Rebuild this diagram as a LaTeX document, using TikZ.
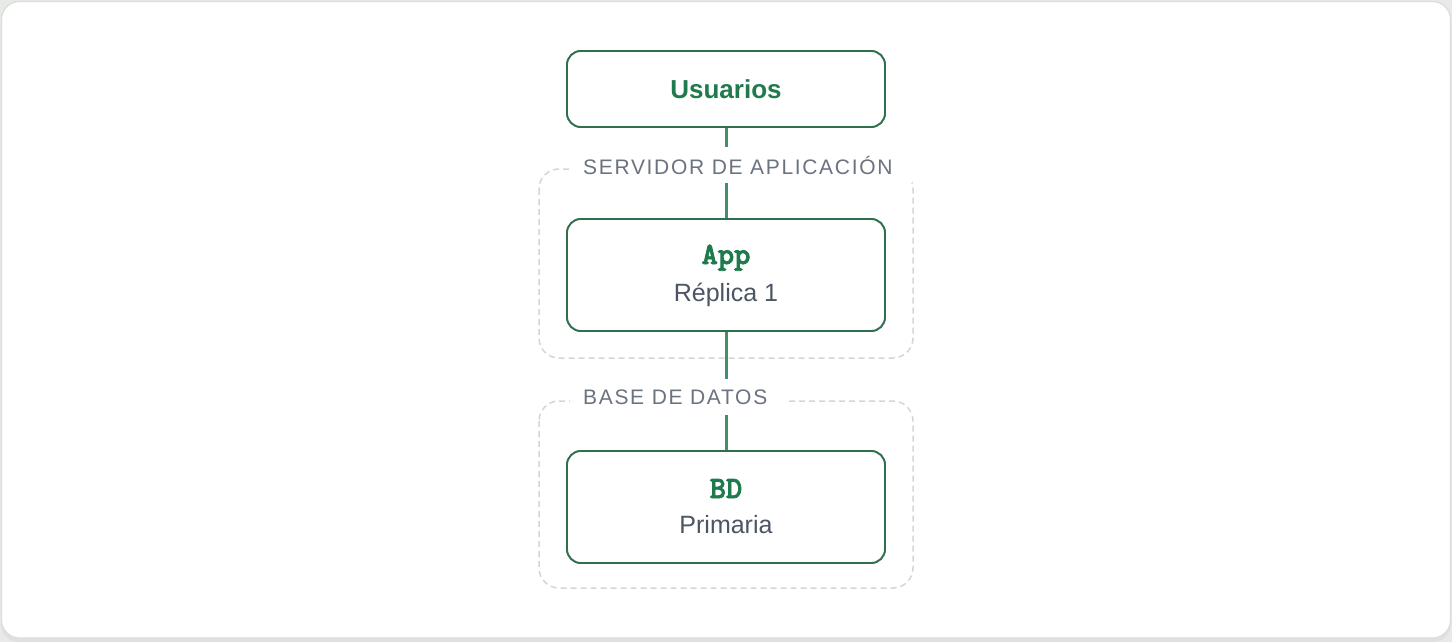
\documentclass[tikz,border=0pt]{standalone}
\usepackage{fontspec}
\setmainfont{Liberation Sans}
\newfontfamily\lblfont{Liberation Sans}[LetterSpace=8]
\newfontfamily\monob{lmmonolt10-bold.otf}[FakeBold=2.5]
\usetikzlibrary{calc}
\definecolor{pagebg}{HTML}{E7EAE7}
\definecolor{cardline}{HTML}{DADDDA}
\definecolor{boxline}{HTML}{2F6F4F}
\definecolor{linkline}{HTML}{428F6B}
\definecolor{titlegreen}{HTML}{1F7A4D}
\definecolor{subgrey}{HTML}{4B5563}
\definecolor{lblgrey}{HTML}{6B7280}
\definecolor{dashgrey}{HTML}{D4D6D4}
\tikzset{
  svcbox/.style={draw=boxline, line width=1.8pt, rounded corners=14pt, fill=white,
    minimum width=318pt, inner sep=0pt},
  groupbox/.style={draw=dashgrey, line width=1.5pt, dash pattern=on 6pt off 4pt, rounded corners=20pt},
  grouplabel/.style={fill=white, inner xsep=13pt, inner ysep=0pt, minimum height=36pt,
    text=lblgrey, font=\lblfont\fontsize{21}{24}\selectfont, anchor=west},
  connline/.style={draw=linkline, line width=3pt},
  titletxt/.style={text=titlegreen, font=\bfseries\fontsize{26}{30}\selectfont, anchor=base, inner sep=0pt},
  codetxt/.style={text=titlegreen, font=\monob\fontsize{31}{34}\selectfont, anchor=base, inner sep=0pt},
  subtxt/.style={text=subgrey, font=\fontsize{25}{30}\selectfont, anchor=base, inner sep=0pt},
}
\begin{document}
\begin{tikzpicture}[x=1pt,y=-1pt]
\useasboundingbox (0,0) rectangle (1452,642);
\fill[pagebg] (0,0) rectangle (1452,642);
% card shadow and card
\fill[cardline!70!pagebg, rounded corners=18pt] (1,3) rectangle (1451,642);
\draw[cardline, fill=white, line width=1.2pt, rounded corners=18pt] (1.5,1.5) rectangle (1450.5,638);
% groups
\draw[groupbox] (539,169) rectangle (913,358);
\draw[groupbox] (539,401) rectangle (913,588);
% boxes
\node[svcbox, minimum height=76pt] (users) at (726,89) {};
\node[svcbox, minimum height=112pt] (app) at (726,275) {};
\node[svcbox, minimum height=112pt] (db) at (726,507) {};
% connectors
\draw[connline] (users.south) -- (app.north);
\draw[connline] (app.south) -- (db.north);
% group labels (over connectors)
\node[grouplabel] (lblapp) at (570,165) {SERVIDOR DE APLICACIÓN\hspace*{7pt}};
\node[grouplabel] (lbldb) at (570,397) {BASE DE DATOS\hspace*{5pt}};
% redraw boxes on top
\node[svcbox, minimum height=76pt] (users2) at (726,89) {};
\node[svcbox, minimum height=112pt] (app2) at (726,275) {};
\node[svcbox, minimum height=112pt] (db2) at (726,507) {};
% texts
\node[titletxt] (tusers) at (726,98.5) {Usuarios};
\node[codetxt] (tapp) at (726,264) {App};
\node[subtxt] (sapp) at (726,301) {Réplica 1};
\node[codetxt] (tdb) at (726,498) {BD};
\node[subtxt] (sdb) at (726,533) {Primaria};
\end{tikzpicture}
\end{document}
